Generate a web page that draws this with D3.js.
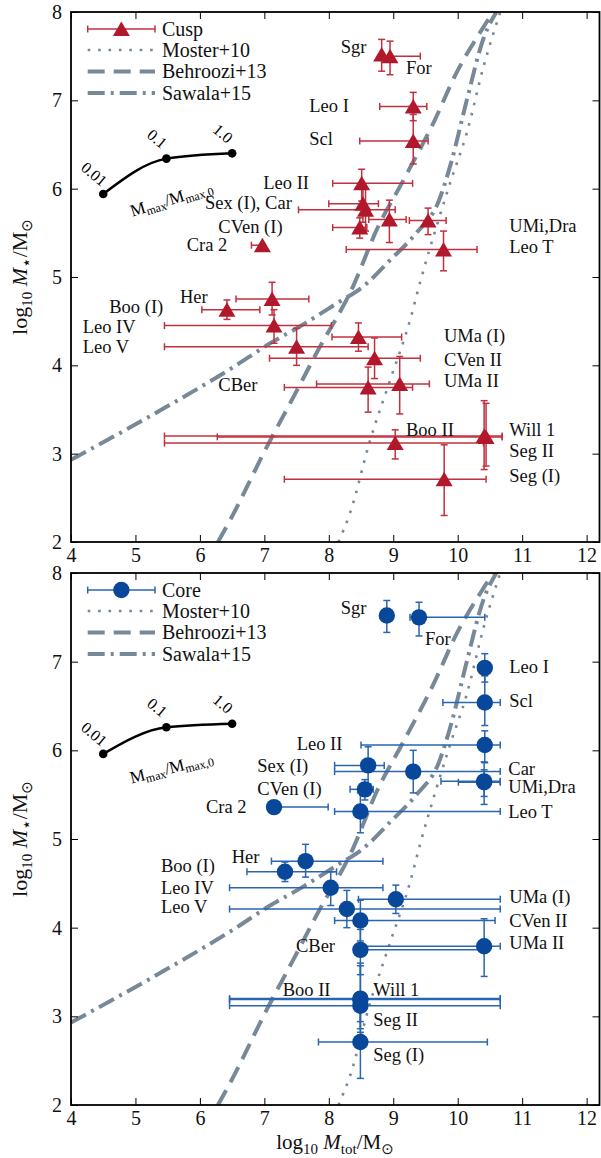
<!DOCTYPE html>
<html>
<head>
<meta charset="utf-8">
<script src="https://cdn.jsdelivr.net/npm/d3@7"></script>
<style>
  body { margin: 0; background: #fff; }
  text { font-family: "Liberation Serif", "DejaVu Serif", serif; }
</style>
</head>
<body>
<svg id="chart" width="601" height="1158"></svg>
<script>
// ---- data -------------------------------------------------------------
const galaxies = ["Sgr","For","Leo I","Scl","Leo II","Sex (I)","Car","CVen (I)","UMi","Dra","Leo T","Cra 2",
  "Boo (I)","Her","Leo IV","Leo V","UMa (I)","CVen II","CBer","UMa II","Boo II","Will 1","Seg II","Seg (I)"];

// log10 M_star and its range (same in both panels)
const mStar   = [7.52,7.50,6.93,6.54,6.06,5.83,5.76,5.56,5.65,5.64,5.31,5.36,4.63,4.75,4.45,4.21,4.32,4.08,3.75,3.79,3.12,3.20,3.19,2.71];
const mStarLo = [7.33,7.29,6.77,6.28,5.86,5.62,5.52,5.44,5.39,5.48,5.07,5.36,4.52,4.57,4.25,4.00,4.16,3.85,3.47,3.45,2.94,2.82,2.86,2.30];
const mStarHi = [7.69,7.67,7.09,6.84,6.22,6.04,6.00,5.67,5.87,5.78,5.52,5.36,4.74,4.94,4.63,4.42,4.48,4.31,3.98,4.10,3.27,3.60,3.57,3.10];

// log10 M_tot, cusp fits
const cuspTot   = [8.82,8.95,9.31,9.31,8.51,8.53,8.57,8.48,8.94,9.54,9.78,6.97,6.42,7.12,7.15,7.50,8.46,8.71,8.61,9.10,9.03,10.41,10.44,9.79];
const cuspTotLo = [8.82,8.85,8.79,8.48,8.06,8.00,7.53,8.06,8.62,9.25,8.27,6.80,6.03,6.56,5.45,5.45,8.05,7.08,7.31,7.81,5.45,5.45,6.27,7.31];
const cuspTotHi = [8.82,9.42,9.52,9.54,9.30,8.77,9.03,8.59,9.20,9.82,10.30,7.00,6.93,7.69,8.04,8.61,9.13,9.42,9.30,9.56,10.40,10.69,10.69,10.44];

// log10 M_tot, core fits
const coreTot   = [8.90,9.40,10.42,10.42,10.42,8.61,9.31,8.56,10.41,10.41,8.49,7.15,7.32,7.64,8.03,8.28,9.04,8.49,8.49,10.41,8.49,8.49,8.49,8.49];
const coreTotLo = [8.90,9.26,10.42,9.77,8.50,8.09,8.09,8.33,9.74,10.01,8.09,7.15,6.73,7.11,6.46,6.46,8.46,8.09,8.49,8.50,6.46,6.46,6.46,7.84];
const coreTotHi = [8.90,10.42,10.42,10.66,10.66,8.86,10.66,8.69,10.66,10.66,10.66,7.99,8.12,8.84,8.84,10.66,10.66,10.58,10.45,10.66,10.66,10.66,10.66,10.46];

// abundance matching relations
const mosterX   = [8.15,8.33,8.64,8.95,9.26,9.42,9.67,9.88,10.14,10.40,10.66];
const mosterY   = [2.00,2.33,3.15,3.83,4.51,4.95,5.57,6.06,6.63,7.38,8.00];
const behrooziX = [6.28,6.47,7.04,7.45,7.81,8.38,8.74,9.16,9.62,9.98,10.40,10.55];
const behrooziY = [2.00,2.25,3.08,3.64,4.14,4.90,5.53,6.10,6.74,7.31,7.83,8.00];
const sawalaX   = [4.00,5.48,6.52,7.09,7.55,8.12,8.53,8.95,9.36,9.70,9.90,10.14,10.40,10.60];
const sawalaY   = [2.93,3.53,3.98,4.25,4.44,4.70,4.89,5.19,5.50,5.85,6.30,7.00,7.70,8.00];

// M_max / M_max,0 track
const trackLabels = ["0.01","0.1","1.0"];
const trackX      = [4.50,5.48,6.50];
const trackCuspY  = [5.94,6.34,6.40];
const trackCoreY  = [5.96,6.26,6.30];

const xTicks = [4,5,6,7,8,9,10,11,12];
const yTicks = [2,3,4,5,6,7,8];

// label text and where it sits (data coords, left edge / baseline)
const cuspLabelText = ["Sgr","For","Leo I","Scl","Leo II","Sex (I), Car","CVen (I)","Cra 2","UMi,Dra","Leo T","Boo (I)","Her",
  "Leo IV","Leo V","CBer","UMa (I)","CVen II","UMa II","Boo II","Will 1","Seg II","Seg (I)"];
const cuspLabelX = [8.185,9.198,7.697,7.697,6.984,6.079,6.286,5.795,10.80,10.80,4.594,5.691,4.182,4.182,6.286,9.787,9.787,9.787,9.198,10.80,10.80,10.80];
const cuspLabelY = [7.532,7.298,6.871,6.494,5.993,5.766,5.501,5.298,5.513,5.268,4.589,4.709,4.363,4.136,3.713,4.267,3.992,3.751,3.203,3.203,2.966,2.683];

const coreLabelText = ["Sgr","For","Leo I","Scl","Leo II","Sex (I)","CVen (I)","Cra 2","Car","UMi,Dra","Leo T","Her","Boo (I)",
  "Leo IV","Leo V","UMa (I)","CVen II","UMa II","CBer","Boo II","Will 1","Seg II","Seg (I)"];
const coreLabelX = [8.185,9.493,10.80,10.80,7.502,6.891,6.891,6.095,10.785,10.785,10.785,6.493,5.396,5.396,5.396,10.80,10.80,10.80,7.491,7.285,8.690,8.690,8.690];
const coreLabelY = [7.534,7.188,6.876,6.492,6.004,5.759,5.496,5.290,5.722,5.522,5.234,4.726,4.625,4.378,4.170,4.275,4.004,3.760,3.722,3.233,3.233,2.891,2.500];

// ---- drawing -----------------------------------------------------------
const svg = d3.select("#chart");
const grey = "#778899";
const txt = "#111";
const curveStyles = [
  { name: "Moster+10",   xs: mosterX,   ys: mosterY,   width: 2.6, dash: "2.6,7.8" },
  { name: "Behroozi+13", xs: behrooziX, ys: behrooziY, width: 4,   dash: "17,9" },
  { name: "Sawala+15",   xs: sawalaX,   ys: sawalaY,   width: 4,   dash: "17,6,3,6" }
];

// log10 + mass symbol with subscripts, as tspans
function massLabel(sel, sub, subFont) {
  sel.append("tspan").text("log");
  sel.append("tspan").attr("font-size", 15).attr("dy", 5).text("10");
  sel.append("tspan").attr("dy", -5).text(" ");
  sel.append("tspan").attr("font-style", "italic").text("M");
  const s = sel.append("tspan").attr("font-size", 15).attr("dy", 5).text(sub);
  if (subFont) s.attr("font-family", subFont).attr("font-size", 17);
  sel.append("tspan").attr("dy", -5).text("/M");
  sel.append("tspan").attr("font-size", 15).attr("dy", 5).attr("font-family", "DejaVu Sans").text("⊙");
}

function drawPanel(p) {
  const x = d3.scaleLinear().domain([4, 12.2]).range([71, 599.5]);
  const y = d3.scaleLinear().domain([2, 8]).range(p.yRange);
  const g = svg.append("g");
  const clipId = "clip" + p.key;

  g.append("clipPath").attr("id", clipId)
    .append("rect")
    .attr("x", x(4)).attr("y", y(8))
    .attr("width", x(12.2) - x(4)).attr("height", y(2) - y(8));

  // relations
  const line = d3.line().x(d => x(d[0])).y(d => y(d[1])).curve(d3.curveMonotoneX);
  curveStyles.forEach(c => {
    g.append("path")
      .attr("clip-path", `url(#${clipId})`)
      .attr("d", line(c.xs.map((v, i) => [v, c.ys[i]])))
      .attr("fill", "none")
      .attr("stroke", grey)
      .attr("stroke-width", c.width)
      .attr("stroke-dasharray", c.dash);
  });

  // error bars
  const cap = 3.5;
  const eb = g.append("g").attr("stroke", p.errColor).attr("stroke-width", 1.5).attr("fill", "none");
  galaxies.forEach((name, i) => {
    const cx = x(p.tot[i]), cy = y(mStar[i]);
    const x0 = x(p.totLo[i]), x1 = x(p.totHi[i]);
    const y0 = y(mStarLo[i]), y1 = y(mStarHi[i]);
    if (x1 - x0 > 0.5) {
      eb.append("line").attr("x1", x0).attr("x2", x1).attr("y1", cy).attr("y2", cy);
      if (cx - x0 > 0.5) eb.append("line").attr("x1", x0).attr("x2", x0).attr("y1", cy - cap).attr("y2", cy + cap);
      if (x1 - cx > 0.5) eb.append("line").attr("x1", x1).attr("x2", x1).attr("y1", cy - cap).attr("y2", cy + cap);
    }
    if (y0 - y1 > 0.5) {
      eb.append("line").attr("x1", cx).attr("x2", cx).attr("y1", y0).attr("y2", y1);
      eb.append("line").attr("x1", cx - cap).attr("x2", cx + cap).attr("y1", y0).attr("y2", y0);
      eb.append("line").attr("x1", cx - cap).attr("x2", cx + cap).attr("y1", y1).attr("y2", y1);
    }
  });

  // markers
  g.append("g").selectAll("path")
    .data(galaxies.map((n, i) => [p.tot[i], mStar[i]]))
    .join("path")
    .attr("transform", d => `translate(${x(d[0])},${y(d[1])})`)
    .attr("d", p.marker)
    .attr("fill", p.color);

  // names
  g.append("g").selectAll("text")
    .data(p.labelText.map((t, i) => [t, p.labelX[i], p.labelY[i]]))
    .join("text")
    .attr("x", d => x(d[1]))
    .attr("y", d => y(d[2]))
    .attr("font-size", 18.5)
    .attr("fill", txt)
    .text(d => d[0]);

  // M_max track
  const tr = trackX.map((v, i) => [v, p.trackY[i]]);
  g.append("path")
    .attr("d", line(tr))
    .attr("fill", "none").attr("stroke", "#000").attr("stroke-width", 2.5);
  g.append("g").selectAll("circle").data(tr).join("circle")
    .attr("cx", d => x(d[0])).attr("cy", d => y(d[1])).attr("r", 4.3).attr("fill", "#000");
  g.append("g").selectAll("text").data(tr).join("text")
    .attr("transform", d => `translate(${x(d[0]) - 9},${y(d[1]) - 20}) rotate(40)`)
    .attr("text-anchor", "middle").attr("dy", "0.35em")
    .attr("font-size", 16).attr("fill", "#000")
    .text((d, i) => trackLabels[i]);
  const tl = g.append("text")
    .attr("transform", `translate(${x(trackX[1]) + 5},${y(p.trackY[1]) + 40}) rotate(${p.trackAngle})`)
    .attr("text-anchor", "middle").attr("dy", "0.35em")
    .attr("font-size", 17).attr("fill", "#000");
  tl.append("tspan").text("M");
  tl.append("tspan").attr("font-size", 12).attr("dy", 3).text("max");
  tl.append("tspan").attr("dy", -3).text("/M");
  tl.append("tspan").attr("font-size", 12).attr("dy", 3).text("max,0");

  // axes, ticks inward on all four sides
  const styleAxis = a => {
    a.select(".domain").remove();
    a.selectAll(".tick line").attr("stroke", "#000").attr("stroke-width", 1);
    a.selectAll(".tick text").attr("font-size", 20).attr("fill", txt)
      .attr("font-family", null);
  };
  g.append("g").attr("transform", `translate(0,${y(2)})`)
    .call(d3.axisBottom(x).tickValues(xTicks).tickSize(-7).tickPadding(6).tickFormat(d3.format("d")))
    .call(styleAxis);
  g.append("g").attr("transform", `translate(0,${y(8)})`)
    .call(d3.axisTop(x).tickValues(xTicks).tickSize(-7).tickFormat(""))
    .call(styleAxis);
  g.append("g").attr("transform", `translate(${x(4)},0)`)
    .call(d3.axisLeft(y).tickValues(yTicks).tickSize(-7).tickPadding(9).tickFormat(d3.format("d")))
    .call(styleAxis);
  g.append("g").attr("transform", `translate(${x(12.2)},0)`)
    .call(d3.axisRight(y).tickValues(yTicks).tickSize(-7).tickFormat(""))
    .call(styleAxis);
  g.append("rect")
    .attr("x", x(4)).attr("y", y(8))
    .attr("width", x(12.2) - x(4)).attr("height", y(2) - y(8))
    .attr("fill", "none").attr("stroke", "#000").attr("stroke-width", 1.8);

  // y label, centred on the panel from its measured length
  const mid = (y(2) + y(8)) / 2;
  const yl = g.append("text")
    .attr("font-size", 22).attr("fill", txt)
    .call(massLabel, "⋆", "DejaVu Sans");
  const len = yl.node().getComputedTextLength();
  yl.attr("transform", `translate(27,${mid + len / 2}) rotate(-90)`);

  // legend
  const lx0 = 87.7, lx1 = 155, lt = 162;
  const ly = [17, 38, 59.5, 81].map(v => y(8) + v);
  const lg = g.append("g");
  lg.append("line").attr("x1", lx0).attr("x2", lx1).attr("y1", ly[0]).attr("y2", ly[0])
    .attr("stroke", p.errColor).attr("stroke-width", 1.5);
  [lx0, lx1].forEach(v => lg.append("line").attr("x1", v).attr("x2", v)
    .attr("y1", ly[0] - cap).attr("y2", ly[0] + cap).attr("stroke", p.errColor).attr("stroke-width", 1.5));
  lg.append("path").attr("transform", `translate(${(lx0 + lx1) / 2},${ly[0]})`)
    .attr("d", p.marker).attr("fill", p.color);
  curveStyles.forEach((c, i) => {
    lg.append("line").attr("x1", lx0).attr("x2", lx1).attr("y1", ly[i + 1]).attr("y2", ly[i + 1])
      .attr("stroke", grey).attr("stroke-width", c.width).attr("stroke-dasharray", c.dash);
  });
  [p.legendName].concat(curveStyles.map(c => c.name)).forEach((t, i) => {
    lg.append("text").attr("x", lt).attr("y", ly[i]).attr("dy", "0.33em")
      .attr("font-size", 20).attr("fill", txt).text(t);
  });

  return { x, y, g };
}

const triangle = "M0,-7.5L8.5,7L-8.5,7Z";
const circle = d3.symbol().type(d3.symbolCircle).size(Math.PI * 8.2 * 8.2)();

drawPanel({
  key: "cusp", yRange: [542, 12], tot: cuspTot, totLo: cuspTotLo, totHi: cuspTotHi,
  color: "#b2182b", errColor: "#c0303f", marker: triangle, legendName: "Cusp",
  labelText: cuspLabelText, labelX: cuspLabelX, labelY: cuspLabelY,
  trackY: trackCuspY, trackAngle: -17
});
drawPanel({
  key: "core", yRange: [1105, 573], tot: coreTot, totLo: coreTotLo, totHi: coreTotHi,
  color: "#08479a", errColor: "#2a65b0", marker: circle, legendName: "Core",
  labelText: coreLabelText, labelX: coreLabelX, labelY: coreLabelY,
  trackY: trackCoreY, trackAngle: -14
});

// x label under the lower panel
svg.append("text")
  .attr("x", 335).attr("y", 1149)
  .attr("text-anchor", "middle").attr("font-size", 21).attr("fill", txt)
  .call(massLabel, "tot");
</script>
</body>
</html>
